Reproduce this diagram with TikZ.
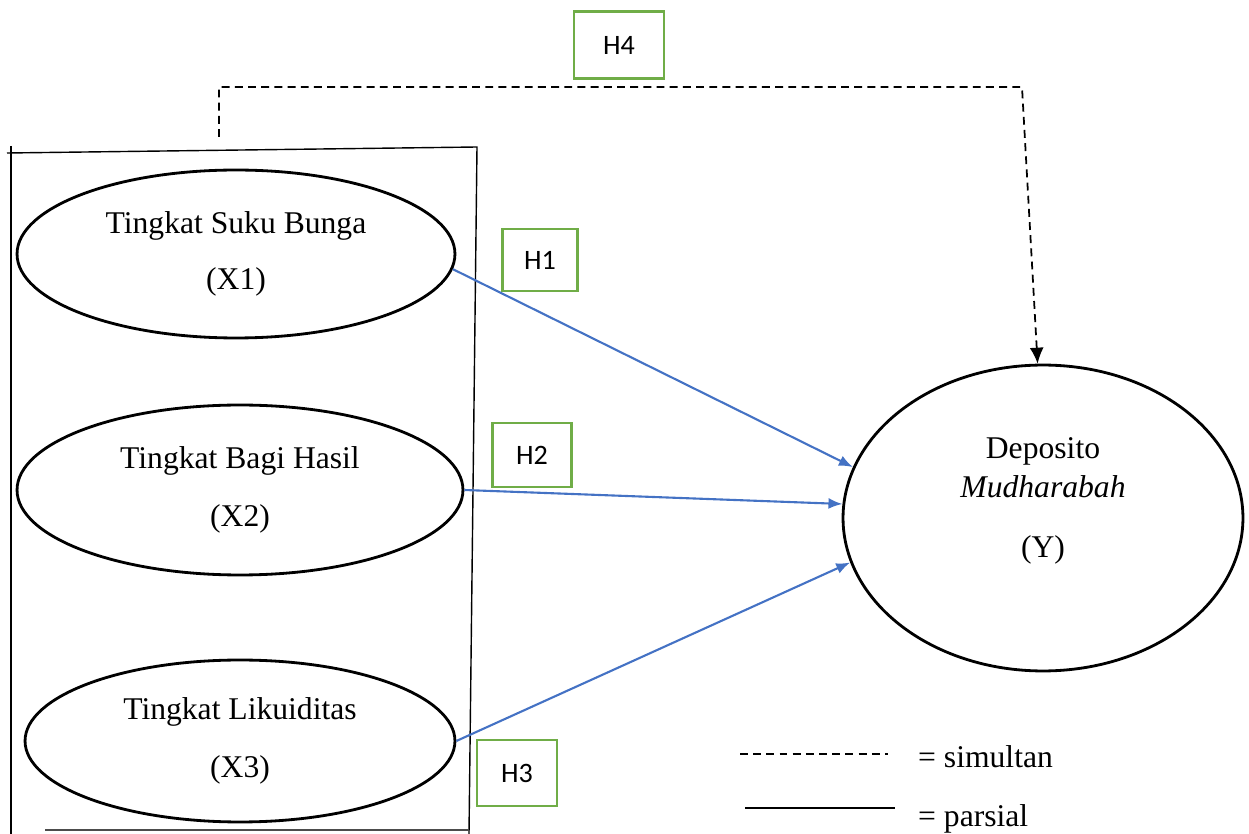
\documentclass[tikz,border=0pt]{standalone}
\usepackage{fontspec}
\setmainfont{Liberation Serif}[ItalicFont={Liberation Serif Italic}]
\newfontfamily\hypfont{Carlito}
\usetikzlibrary{arrows.meta,shapes.geometric,calc}
\definecolor{arrowblue}{RGB}{68,114,196}
\definecolor{boxgreen}{RGB}{112,173,71}

\begin{document}
\begin{tikzpicture}[x=0.02cm,y=-0.02cm,
    var/.style={draw,ellipse,line width=1.6pt,align=center,inner sep=0pt,
                font=\fontsize{18}{22}\selectfont},
    hyp/.style={draw=boxgreen,line width=1.5pt,inner sep=0pt,
                font=\hypfont\fontsize{16}{19}\selectfont},
    partial/.style={draw=arrowblue,line width=1.2pt,-{Latex[length=2.8mm,width=2.2mm]}},
    simul/.style={dash pattern=on 4.5pt off 3pt,line width=1pt}]
  \useasboundingbox (0,0) rectangle (1249,834);

  % frame round the independent variables
  \draw[line width=0.8pt] (7,153) -- (477,147) -- (469,834);
  \draw[line width=0.8pt] (11,146) -- (11,834);
  \draw[line width=0.8pt,black!70] (45,830) -- (469,830);

  % variables
  \node[var,minimum width=8.76cm,minimum height=3.36cm] (x1) at (236,254)
       {Tingkat Suku Bunga\\[10pt](X1)};
  \node[var,minimum width=8.92cm,minimum height=3.4cm] (x2) at (240,490)
       {Tingkat Bagi Hasil\\[11pt](X2)};
  \node[var,minimum width=8.6cm,minimum height=3.24cm] (x3) at (240,741)
       {Tingkat Likuiditas\\[11pt](X3)};
  \node[var,minimum width=8cm,minimum height=6.12cm] (y) at (1043,518) {};
  \node[align=center,font=\fontsize{18}{22}\selectfont] (ytext) at (1043,501)
       {Deposito\\\textit{Mudharabah}\\[12pt](Y)};

  % hypotheses
  \node[hyp,minimum width=1.8cm,minimum height=1.34cm] (h4) at (619,45) {H4};
  \node[hyp,minimum width=1.5cm,minimum height=1.24cm] (h1) at (540,260) {H1};
  \node[hyp,minimum width=1.58cm,minimum height=1.28cm] (h2) at (532,455) {H2};
  \node[hyp,minimum width=1.6cm,minimum height=1.32cm] (h3) at (517,773) {H3};

  % partial effects
  \draw[partial] (x1.-4) -- (y.165);
  \draw[partial] (x2.east) -- (y.176);
  \draw[partial] (x3.east) -- (y.193);

  % simultaneous effect
  \coordinate (h4start) at (219,137);
  \coordinate (h4corner) at (1022,87);
  \draw[simul,-{Latex[length=3.2mm,width=2.8mm]}] (h4start) |- (h4corner) -- (y.92);

  % legend
  \node[anchor=west,font=\fontsize{18}{22}\selectfont] (simtext) at (912,757) {= simultan};
  \node[anchor=west,font=\fontsize{18}{22}\selectfont] (partext) at (912,819) {= parsial};
  \draw[simul,line width=0.8pt] ($(simtext.west)+(-172,-3)$) -- ++(148,0);
  \draw[line width=0.8pt] ($(partext.west)+(-167,-11)$) -- ++(150,0);
\end{tikzpicture}
\end{document}
